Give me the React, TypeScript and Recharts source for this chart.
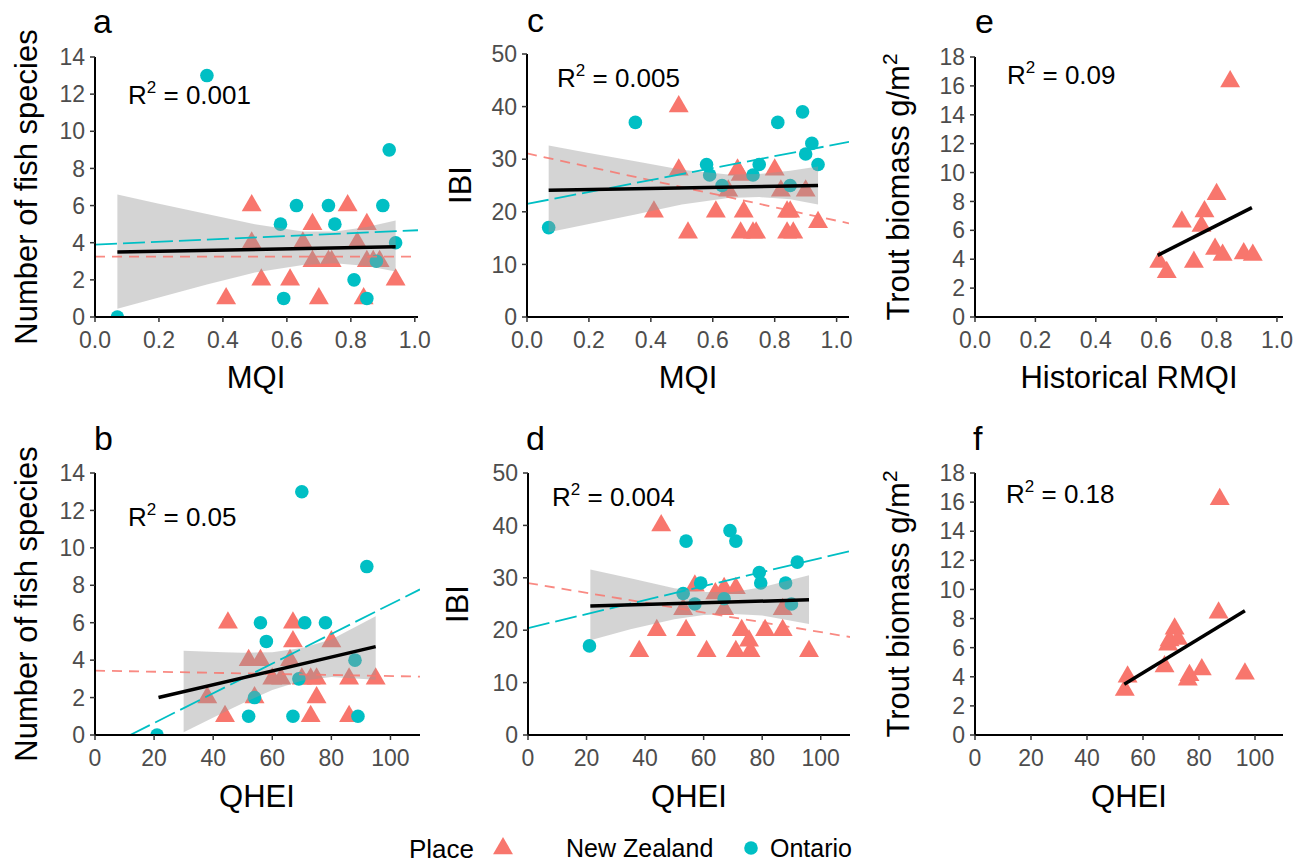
import React from "react";
import { ComposedChart, Scatter, Line, Area, XAxis, YAxis } from "recharts";

const NZ_COLOR = "#F8766D";
const ON_COLOR = "#00BFC4";
const FONT = "'Liberation Sans', Arial, Helvetica, sans-serif";

// ---------- tick values ----------
const mqiTicks = [0, 0.2, 0.4, 0.6, 0.8, 1.0];
const qheiTicks = [0, 20, 40, 60, 80, 100];
const speciesTicks = [0, 2, 4, 6, 8, 10, 12, 14];
const ibiTicks = [0, 10, 20, 30, 40, 50];
const troutTicks = [0, 2, 4, 6, 8, 10, 12, 14, 16, 18];

// ---------- panel a: MQI vs number of fish species ----------
const aNZ = [
  { x: 0.41, y: 1 }, { x: 0.49, y: 6 }, { x: 0.49, y: 4 }, { x: 0.52, y: 2 },
  { x: 0.61, y: 2 }, { x: 0.65, y: 4 }, { x: 0.68, y: 5 }, { x: 0.68, y: 3 },
  { x: 0.7, y: 1 }, { x: 0.73, y: 3 }, { x: 0.74, y: 3 }, { x: 0.79, y: 6 },
  { x: 0.82, y: 4 }, { x: 0.84, y: 1 }, { x: 0.85, y: 5 }, { x: 0.85, y: 3 },
  { x: 0.87, y: 3 }, { x: 0.89, y: 3 }, { x: 0.94, y: 2 },
];
const aON = [
  { x: 0.07, y: 0 }, { x: 0.35, y: 13 }, { x: 0.58, y: 5 }, { x: 0.59, y: 1 },
  { x: 0.63, y: 6 }, { x: 0.73, y: 6 }, { x: 0.75, y: 5 }, { x: 0.81, y: 2 },
  { x: 0.85, y: 1 }, { x: 0.88, y: 3 }, { x: 0.9, y: 6 }, { x: 0.92, y: 9 },
  { x: 0.94, y: 4 },
];
const aBlack = [{ x: 0.07, y: 3.5 }, { x: 0.94, y: 3.78 }];
const aCyan = [{ x: 0, y: 3.9 }, { x: 1.01, y: 4.67 }];
const aPink = [{ x: 0, y: 3.25 }, { x: 1.01, y: 3.25 }];
const aRibbon = [
  { x: 0.07, band: [0.45, 6.6] }, { x: 0.2, band: [1.05, 6.1] },
  { x: 0.35, band: [1.75, 5.55] }, { x: 0.5, band: [2.4, 5.0] },
  { x: 0.65, band: [2.8, 4.6] }, { x: 0.75, band: [2.9, 4.6] },
  { x: 0.85, band: [2.75, 4.85] }, { x: 0.94, band: [2.45, 5.2] },
];

// ---------- panel c: MQI vs IBI ----------
const cNZ = [
  { x: 0.41, y: 20 }, { x: 0.49, y: 40 }, { x: 0.49, y: 28 }, { x: 0.52, y: 16 },
  { x: 0.61, y: 20 }, { x: 0.65, y: 24 }, { x: 0.68, y: 28 }, { x: 0.69, y: 27 },
  { x: 0.7, y: 20 }, { x: 0.69, y: 16 }, { x: 0.73, y: 16 }, { x: 0.74, y: 16 },
  { x: 0.8, y: 28 }, { x: 0.82, y: 24 }, { x: 0.84, y: 20 }, { x: 0.85, y: 20 },
  { x: 0.84, y: 16 }, { x: 0.86, y: 16 }, { x: 0.9, y: 24 }, { x: 0.94, y: 18 },
];
const cON = [
  { x: 0.07, y: 17 }, { x: 0.35, y: 37 }, { x: 0.58, y: 29 }, { x: 0.59, y: 27 },
  { x: 0.63, y: 25 }, { x: 0.73, y: 27 }, { x: 0.75, y: 29 }, { x: 0.81, y: 37 },
  { x: 0.85, y: 25 }, { x: 0.89, y: 39 }, { x: 0.9, y: 31 }, { x: 0.92, y: 33 },
  { x: 0.94, y: 29 },
];
const cBlack = [{ x: 0.07, y: 24.1 }, { x: 0.94, y: 25.0 }];
const cCyan = [{ x: 0, y: 21.5 }, { x: 1.04, y: 33.3 }];
const cPink = [{ x: 0, y: 31.1 }, { x: 1.04, y: 17.8 }];
const cRibbon = [
  { x: 0.07, band: [16.1, 32.6] }, { x: 0.2, band: [17.7, 31.2] },
  { x: 0.35, band: [19.5, 29.6] }, { x: 0.5, band: [21.4, 28.0] },
  { x: 0.65, band: [22.6, 27.1] }, { x: 0.75, band: [22.8, 27.2] },
  { x: 0.85, band: [22.4, 27.8] }, { x: 0.94, band: [21.4, 28.6] },
];

// ---------- panel e: Historical RMQI vs trout biomass ----------
const eNZ = [
  { x: 0.61, y: 3.8 }, { x: 0.635, y: 3.1 }, { x: 0.685, y: 6.6 }, { x: 0.725, y: 3.8 },
  { x: 0.75, y: 6.3 }, { x: 0.76, y: 7.3 }, { x: 0.795, y: 4.7 }, { x: 0.8, y: 8.5 },
  { x: 0.82, y: 4.3 }, { x: 0.845, y: 16.3 }, { x: 0.89, y: 4.4 }, { x: 0.92, y: 4.3 },
];
const eBlack = [{ x: 0.605, y: 4.27 }, { x: 0.917, y: 7.57 }];

// ---------- panel b: QHEI vs number of fish species ----------
const bNZ = [
  { x: 45, y: 6 }, { x: 67, y: 6 }, { x: 67, y: 5 }, { x: 80, y: 5 },
  { x: 52, y: 4 }, { x: 56, y: 4 }, { x: 66, y: 4 }, { x: 60, y: 3 },
  { x: 63, y: 3 }, { x: 70, y: 3 }, { x: 73, y: 3 }, { x: 75, y: 3 },
  { x: 86, y: 3 }, { x: 95, y: 3 }, { x: 38, y: 2 }, { x: 54, y: 2 },
  { x: 75, y: 2 }, { x: 44, y: 1 }, { x: 73, y: 1 }, { x: 86, y: 1 },
];
const bON = [
  { x: 21, y: 0 }, { x: 52, y: 1 }, { x: 54, y: 2 }, { x: 56, y: 6 },
  { x: 58, y: 5 }, { x: 67, y: 1 }, { x: 69, y: 3 }, { x: 70, y: 13 },
  { x: 71, y: 6 }, { x: 78, y: 6 }, { x: 88, y: 4 }, { x: 89, y: 1 },
  { x: 92, y: 9 },
];
const bBlack = [{ x: 21.5, y: 2.0 }, { x: 95, y: 4.72 }];
const bCyan = [{ x: 11.9, y: 0 }, { x: 110, y: 7.78 }];
const bPink = [{ x: 0, y: 3.44 }, { x: 110, y: 3.12 }];
const bRibbon = [
  { x: 30, band: [0.15, 4.5] }, { x: 43.5, band: [1.2, 4.42] },
  { x: 50, band: [1.7, 4.4] }, { x: 60, band: [2.4, 4.42] },
  { x: 70, band: [2.9, 4.65] }, { x: 80, band: [3.1, 5.1] },
  { x: 95, band: [2.95, 6.35] },
];

// ---------- panel d: QHEI vs IBI ----------
const dNZ = [
  { x: 45.5, y: 40 }, { x: 57, y: 28.5 }, { x: 67, y: 28 }, { x: 71, y: 28 },
  { x: 64, y: 27 }, { x: 53, y: 24 }, { x: 67, y: 24 }, { x: 87, y: 24 },
  { x: 44, y: 20 }, { x: 54, y: 20 }, { x: 73, y: 20 }, { x: 81, y: 20 },
  { x: 87, y: 20 }, { x: 75.5, y: 18 }, { x: 38, y: 16 }, { x: 61, y: 16 },
  { x: 71, y: 16 }, { x: 76, y: 16 }, { x: 96, y: 16 },
];
const dON = [
  { x: 21, y: 17 }, { x: 53, y: 27 }, { x: 54, y: 37 }, { x: 57, y: 25 },
  { x: 59, y: 29 }, { x: 67, y: 26 }, { x: 69, y: 39 }, { x: 71, y: 37 },
  { x: 79, y: 31 }, { x: 79.5, y: 29 }, { x: 88, y: 29 }, { x: 90, y: 25 },
  { x: 92, y: 33 },
];
const dBlack = [{ x: 21.3, y: 24.6 }, { x: 96, y: 25.8 }];
const dCyan = [{ x: 0, y: 20.4 }, { x: 110, y: 35.1 }];
const dPink = [{ x: 0, y: 29.0 }, { x: 110, y: 18.7 }];
const dRibbon = [
  { x: 21.3, band: [18.1, 31.6] }, { x: 35, band: [20.2, 29.9] },
  { x: 50, band: [22.1, 28.0] }, { x: 60, band: [22.9, 27.3] },
  { x: 70, band: [23.1, 27.3] }, { x: 80, band: [22.8, 28.2] },
  { x: 96, band: [21.2, 30.5] },
];

// ---------- panel f: QHEI vs trout biomass ----------
const fNZ = [
  { x: 53.5, y: 3.1 }, { x: 54.5, y: 4.0 }, { x: 67.7, y: 4.7 }, { x: 69, y: 6.2 },
  { x: 69.5, y: 6.5 }, { x: 71.3, y: 7.3 }, { x: 72.5, y: 6.6 }, { x: 76, y: 3.8 },
  { x: 76.6, y: 4.1 }, { x: 81, y: 4.5 }, { x: 87, y: 8.4 }, { x: 87.4, y: 16.2 },
  { x: 96.4, y: 4.2 },
];
const fBlack = [{ x: 53.3, y: 3.49 }, { x: 96.4, y: 8.53 }];

// ---------- shapes ----------
const TRI_R = 11.5;
const DOT_R = 6.8;
const Tri = (p: any) => {
  const { cx, cy } = p;
  if (cx == null || cy == null) return <g />;
  const r = TRI_R;
  const xc = (r * Math.sqrt(3)) / 2;
  return (
    <polygon
      points={`${cx},${cy - r} ${cx + xc},${cy + r / 2} ${cx - xc},${cy + r / 2}`}
      fill={NZ_COLOR}
    />
  );
};
const Dot = (p: any) => {
  const { cx, cy } = p;
  if (cx == null || cy == null) return <g />;
  return <circle cx={cx} cy={cy} r={DOT_R} fill={ON_COLOR} />;
};

type Pt = { x: number; y: number };
type PanelProps = {
  left: number; top: number; right: number; bottom: number;
  xDomain: [number, number]; xTicks: number[]; xFmt: (v: number) => string;
  yDomain: [number, number]; yTicks: number[];
  nz?: Pt[]; on?: Pt[]; black: Pt[]; cyan?: Pt[]; pink?: Pt[];
  ribbon?: { x: number; band: number[] }[];
};

const ML = 70, MT = 15, MR = 15, XH = 50;
const tickStyle = { fill: "#4D4D4D", fontSize: 23, fontFamily: FONT };

function Panel(p: PanelProps) {
  const w = p.right - p.left + ML + MR;
  const h = p.bottom - p.top + MT + XH;
  return (
    <div style={{ position: "absolute", left: p.left - ML, top: p.top - MT }}>
      <ComposedChart width={w} height={h} margin={{ top: MT, right: MR, left: 0, bottom: 0 }}>
        <XAxis
          type="number" dataKey="x" domain={p.xDomain} ticks={p.xTicks} allowDataOverflow
          interval={0} tickFormatter={p.xFmt} height={XH} tickSize={5} tickMargin={10}
          tick={tickStyle} tickLine={{ stroke: "#333", strokeWidth: 1.5 }}
          axisLine={{ stroke: "#000", strokeWidth: 2 }}
        />
        <YAxis
          type="number" dataKey="y" domain={p.yDomain} ticks={p.yTicks} allowDataOverflow
          interval={0} width={ML} tickSize={5} tickMargin={5}
          tick={tickStyle} tickLine={{ stroke: "#333", strokeWidth: 1.5 }}
          axisLine={{ stroke: "#000", strokeWidth: 2 }}
        />
        {p.nz && (
          <Scatter data={p.nz} dataKey="y" shape={Tri} fill={NZ_COLOR} isAnimationActive={false} zIndex={50} />
        )}
        {p.on && (
          <Scatter data={p.on} dataKey="y" shape={Dot} fill={ON_COLOR} isAnimationActive={false} zIndex={50} />
        )}
        {p.ribbon && (
          <Area
            data={p.ribbon} dataKey="band" type="linear" stroke="none" fill="#999999"
            fillOpacity={0.42} isAnimationActive={false} dot={false} activeDot={false} zIndex={100}
          />
        )}
        {p.pink && (
          <Line
            data={p.pink} dataKey="y" type="linear" stroke={NZ_COLOR} strokeOpacity={0.85}
            strokeWidth={1.8} strokeDasharray="10 7" dot={false} activeDot={false}
            isAnimationActive={false} zIndex={400}
          />
        )}
        {p.cyan && (
          <Line
            data={p.cyan} dataKey="y" type="linear" stroke={ON_COLOR}
            strokeWidth={1.8} strokeDasharray="22 6" dot={false} activeDot={false}
            isAnimationActive={false} zIndex={400}
          />
        )}
        <Line
          data={p.black} dataKey="y" type="linear" stroke="#000" strokeWidth={3.5}
          dot={false} activeDot={false} isAnimationActive={false} zIndex={450}
        />
      </ComposedChart>
    </div>
  );
}

const fmt1 = (v: number) => v.toFixed(1);
const fmt0 = (v: number) => String(v);

const R2 = ({ x, y, v }: { x: number; y: number; v: string }) => (
  <text x={x} y={y} fontSize={26} fill="#000">
    R<tspan dy={-11} fontSize={17}>2</tspan>
    <tspan dy={11}>{" = " + v}</tspan>
  </text>
);

const YTitle = ({ x, y, children }: { x: number; y: number; children: any }) => (
  <text transform={`translate(${x},${y}) rotate(-90)`} textAnchor="middle" fontSize={31} fill="#000">
    {children}
  </text>
);

const XTitle = ({ x, y, t }: { x: number; y: number; t: string }) => (
  <text x={x} y={y} textAnchor="middle" fontSize={31} fill="#000">{t}</text>
);

const Letter = ({ x, y, t }: { x: number; y: number; t: string }) => (
  <text x={x} y={y} fontSize={34} fill="#000">{t}</text>
);

export default function App() {
  return (
    <div style={{ position: "absolute", left: 0, top: 0, width: 1296, height: 863, background: "#fff", fontFamily: FONT }}>
      <Panel left={95} top={57} right={418} bottom={317} xDomain={[0, 1.01]} xTicks={mqiTicks} xFmt={fmt1}
        yDomain={[0, 14]} yTicks={speciesTicks} nz={aNZ} on={aON} black={aBlack} cyan={aCyan} pink={aPink} ribbon={aRibbon} />
      <Panel left={527} top={54} right={849} bottom={317} xDomain={[0, 1.04]} xTicks={mqiTicks} xFmt={fmt1}
        yDomain={[0, 50]} yTicks={ibiTicks} nz={cNZ} on={cON} black={cBlack} cyan={cCyan} pink={cPink} ribbon={cRibbon} />
      <Panel left={975} top={57} right={1283} bottom={317} xDomain={[0, 1.02]} xTicks={mqiTicks} xFmt={fmt1}
        yDomain={[0, 18]} yTicks={troutTicks} nz={eNZ} black={eBlack} />
      <Panel left={95} top={473} right={420} bottom={735} xDomain={[0, 110]} xTicks={qheiTicks} xFmt={fmt0}
        yDomain={[0, 14]} yTicks={speciesTicks} nz={bNZ} on={bON} black={bBlack} cyan={bCyan} pink={bPink} ribbon={bRibbon} />
      <Panel left={528} top={473} right={850} bottom={735} xDomain={[0, 110]} xTicks={qheiTicks} xFmt={fmt0}
        yDomain={[0, 50]} yTicks={ibiTicks} nz={dNZ} on={dON} black={dBlack} cyan={dCyan} pink={dPink} ribbon={dRibbon} />
      <Panel left={975} top={473} right={1283} bottom={735} xDomain={[0, 110]} xTicks={qheiTicks} xFmt={fmt0}
        yDomain={[0, 18]} yTicks={troutTicks} nz={fNZ} black={fBlack} />

      <svg width={1296} height={863} style={{ position: "absolute", left: 0, top: 0, pointerEvents: "none" }} fontFamily={FONT}>
        <Letter x={93} y={33} t="a" />
        <Letter x={527} y={32} t="c" />
        <Letter x={975} y={33} t="e" />
        <Letter x={94} y={450} t="b" />
        <Letter x={526} y={450} t="d" />
        <Letter x={973} y={450} t="f" />

        <R2 x={128} y={104} v="0.001" />
        <R2 x={557} y={87} v="0.005" />
        <R2 x={1007} y={84} v="0.09" />
        <R2 x={128} y={526} v="0.05" />
        <R2 x={552} y={506} v="0.004" />
        <R2 x={1006} y={503} v="0.18" />

        <XTitle x={256} y={388} t="MQI" />
        <XTitle x={688} y={388} t="MQI" />
        <XTitle x={1129} y={388} t="Historical RMQI" />
        <XTitle x={257} y={807} t="QHEI" />
        <XTitle x={689} y={807} t="QHEI" />
        <XTitle x={1129} y={807} t="QHEI" />

        <YTitle x={37} y={187}>Number of fish species</YTitle>
        <YTitle x={471} y={185}>IBI</YTitle>
        <YTitle x={909} y={187}>
          Trout biomass g/m<tspan dy={-12} fontSize={21}>2</tspan>
        </YTitle>
        <YTitle x={37} y={604}>Number of fish species</YTitle>
        <YTitle x={468} y={604}>IBI</YTitle>
        <YTitle x={909} y={604}>
          Trout biomass g/m<tspan dy={-12} fontSize={21}>2</tspan>
        </YTitle>

        <text x={409} y={858} fontSize={26} fill="#000">Place</text>
        <polygon points="503,837 512.96,854.25 493.04,854.25" fill={NZ_COLOR} />
        <text x={566} y={857} fontSize={25} fill="#000">New Zealand</text>
        <circle cx={751} cy={848} r={6.8} fill={ON_COLOR} />
        <text x={770} y={857} fontSize={25} fill="#000">Ontario</text>
      </svg>
    </div>
  );
}
